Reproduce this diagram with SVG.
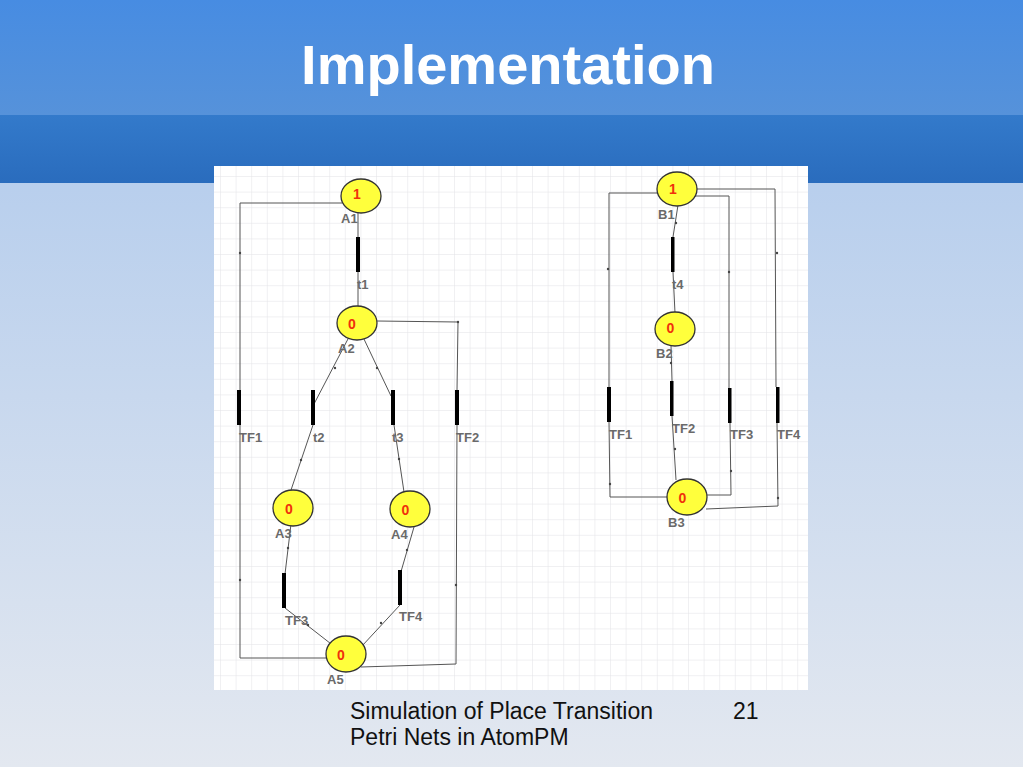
<svg xmlns="http://www.w3.org/2000/svg" width="1023" height="767" viewBox="0 0 1023 767">
<defs>
<linearGradient id="bgLow" x1="0" y1="0" x2="0" y2="1">
<stop offset="0" stop-color="#abc7ec"/>
<stop offset="1" stop-color="#e3e8f0"/>
</linearGradient>
<linearGradient id="bgTop" x1="0" y1="0" x2="0" y2="1">
<stop offset="0" stop-color="#478ce2"/>
<stop offset="1" stop-color="#5692da"/>
</linearGradient>
<linearGradient id="bgBand" x1="0" y1="0" x2="0" y2="1">
<stop offset="0" stop-color="#337acb"/>
<stop offset="1" stop-color="#2a6cbd"/>
</linearGradient>
<pattern id="grid" x="220" y="176" width="15.6" height="15.6" patternUnits="userSpaceOnUse">
<path d="M0 0V15.6M0 0H15.6" fill="none" stroke="#e2e2e6" stroke-width="1"/>
</pattern>
</defs>
<style>
.place{fill:#ffff3c;stroke:#333;stroke-width:1.3}
.bar{fill:#000}
.tok{font-family:"Liberation Sans",Arial,sans-serif;font-size:14px;font-weight:bold;fill:#f0300c;text-anchor:middle}
.lbl{font-family:"Liberation Sans",Arial,sans-serif;font-size:13px;font-weight:bold;fill:#6a6a6a}
.cn{fill:none;stroke:#555;stroke-width:1}
.dot{fill:#444}
.foot{font-family:"Liberation Sans",Arial,sans-serif;font-size:23px;fill:#111}
</style>
<rect x="0" y="0" width="1023" height="767" fill="url(#bgLow)"/>
<rect x="0" y="0" width="1023" height="115" fill="url(#bgTop)"/>
<rect x="0" y="115" width="1023" height="68" fill="url(#bgBand)"/>
<text x="508" y="84" text-anchor="middle" font-family="Liberation Sans,Arial,sans-serif" font-size="56" font-weight="bold" fill="#ffffff">Implementation</text>
<rect x="214" y="166" width="594" height="524" fill="#ffffff"/>
<rect x="214" y="166" width="594" height="524" fill="url(#grid)"/>

<g id="connectors">
<polyline class="cn" points="342,203 240,203 240,390"/>
<polyline class="cn" points="240,425 240,658 328,658"/>
<line class="cn" x1="358" y1="199" x2="358" y2="237"/>
<line class="cn" x1="358" y1="272" x2="358" y2="310"/>
<polyline class="cn" points="377,321 458,322 457,390"/>
<polyline class="cn" points="457,425 456,664 361,667"/>
<line class="cn" x1="349" y1="337" x2="314" y2="404"/>
<line class="cn" x1="363" y1="337" x2="391" y2="396"/>
<line class="cn" x1="313" y1="425" x2="290" y2="493"/>
<line class="cn" x1="394" y1="425" x2="404" y2="492"/>
<line class="cn" x1="291" y1="524" x2="285" y2="574"/>
<line class="cn" x1="414" y1="527" x2="400" y2="575"/>
<line class="cn" x1="285" y1="608" x2="335" y2="647"/>
<line class="cn" x1="400" y1="605" x2="362" y2="646"/>
<polyline class="cn" points="658,193 609,193 609,387"/>
<polyline class="cn" points="609,422 610,497 668,497"/>
<polyline class="cn" points="697,189 775,189 776,387"/>
<polyline class="cn" points="777,423 778,506 706,509"/>
<polyline class="cn" points="685,196 729,196 729,388"/>
<polyline class="cn" points="730,423 731,495 697,495"/>
<line class="cn" x1="678" y1="205" x2="673" y2="237"/>
<line class="cn" x1="673" y1="272" x2="675" y2="313"/>
<line class="cn" x1="671" y1="345" x2="672" y2="381"/>
<line class="cn" x1="672" y1="416" x2="676" y2="480"/>
<circle class="dot" cx="240" cy="253" r="1.2"/>
<circle class="dot" cx="240" cy="580" r="1.2"/>
<circle class="dot" cx="458" cy="322" r="1.2"/>
<circle class="dot" cx="456" cy="585" r="1.2"/>
<circle class="dot" cx="335" cy="368" r="1.2"/>
<circle class="dot" cx="377" cy="368" r="1.2"/>
<circle class="dot" cx="301" cy="460" r="1.2"/>
<circle class="dot" cx="399" cy="459" r="1.2"/>
<circle class="dot" cx="288" cy="548" r="1.2"/>
<circle class="dot" cx="407" cy="550" r="1.2"/>
<circle class="dot" cx="308" cy="625" r="1.2"/>
<circle class="dot" cx="381" cy="623" r="1.2"/>
<circle class="dot" cx="608" cy="269" r="1.2"/>
<circle class="dot" cx="610" cy="484" r="1.2"/>
<circle class="dot" cx="777" cy="253" r="1.2"/>
<circle class="dot" cx="778" cy="498" r="1.2"/>
<circle class="dot" cx="729" cy="272" r="1.2"/>
<circle class="dot" cx="731" cy="471" r="1.2"/>
<circle class="dot" cx="676" cy="223" r="1.2"/>
<circle class="dot" cx="671" cy="363" r="1.2"/>
<circle class="dot" cx="675" cy="449" r="1.2"/>
</g>

<g id="A1"><ellipse class="place" cx="361" cy="196" rx="20" ry="17"/><text class="tok" x="357" y="199">1</text><text class="lbl" x="341" y="223">A1</text></g>
<g id="t1"><rect class="bar" x="356" y="237" width="4" height="35"/><text class="lbl" x="357" y="289">t1</text></g>
<g id="A2"><ellipse class="place" cx="357" cy="323" rx="20" ry="17"/><text class="tok" x="352" y="329">0</text><text class="lbl" x="338" y="353">A2</text></g>
<g id="TF1L"><rect class="bar" x="237" y="390" width="4" height="35"/><text class="lbl" x="239" y="442">TF1</text></g>
<g id="t2"><rect class="bar" x="311" y="390" width="4" height="35"/><text class="lbl" x="313" y="442">t2</text></g>
<g id="t3"><rect class="bar" x="391" y="390" width="4" height="35"/><text class="lbl" x="392" y="442">t3</text></g>
<g id="TF2L"><rect class="bar" x="455" y="390" width="4" height="35"/><text class="lbl" x="456" y="442">TF2</text></g>
<g id="A3"><ellipse class="place" cx="293" cy="508" rx="20" ry="18"/><text class="tok" x="289" y="514">0</text><text class="lbl" x="275" y="538">A3</text></g>
<g id="A4"><ellipse class="place" cx="410" cy="509" rx="20" ry="18"/><text class="tok" x="405.5" y="515">0</text><text class="lbl" x="391" y="539">A4</text></g>
<g id="TF3L"><rect class="bar" x="282" y="573" width="4" height="35"/><text class="lbl" x="285" y="625">TF3</text></g>
<g id="TF4L"><rect class="bar" x="398" y="570" width="4" height="35"/><text class="lbl" x="399" y="621">TF4</text></g>
<g id="A5"><ellipse class="place" cx="346" cy="654" rx="20" ry="18"/><text class="tok" x="341" y="660">0</text><text class="lbl" x="327" y="684">A5</text></g>

<g id="B1"><ellipse class="place" cx="677" cy="189" rx="20" ry="17"/><text class="tok" x="673" y="194">1</text><text class="lbl" x="658" y="219">B1</text></g>
<g id="t4"><rect class="bar" x="671" y="237" width="3.5" height="35"/><text class="lbl" x="672" y="289">t4</text></g>
<g id="B2"><ellipse class="place" cx="675" cy="329" rx="20" ry="17"/><text class="tok" x="670.5" y="333">0</text><text class="lbl" x="656" y="358">B2</text></g>
<g id="TF1R"><rect class="bar" x="607" y="387" width="4" height="35"/><text class="lbl" x="609" y="439">TF1</text></g>
<g id="TF2R"><rect class="bar" x="670" y="381" width="3.5" height="35"/><text class="lbl" x="672" y="433">TF2</text></g>
<g id="TF3R"><rect class="bar" x="728" y="388" width="3.5" height="35"/><text class="lbl" x="730" y="439">TF3</text></g>
<g id="TF4R"><rect class="bar" x="776" y="387" width="3.5" height="36"/><text class="lbl" x="777" y="439">TF4</text></g>
<g id="B3"><ellipse class="place" cx="687" cy="497" rx="20" ry="18"/><text class="tok" x="682.5" y="503">0</text><text class="lbl" x="668" y="527">B3</text></g>

<text class="foot" x="350" y="719">Simulation of Place Transition</text>
<text class="foot" x="350" y="745">Petri Nets in AtomPM</text>
<text class="foot" x="733" y="719">21</text>
</svg>
